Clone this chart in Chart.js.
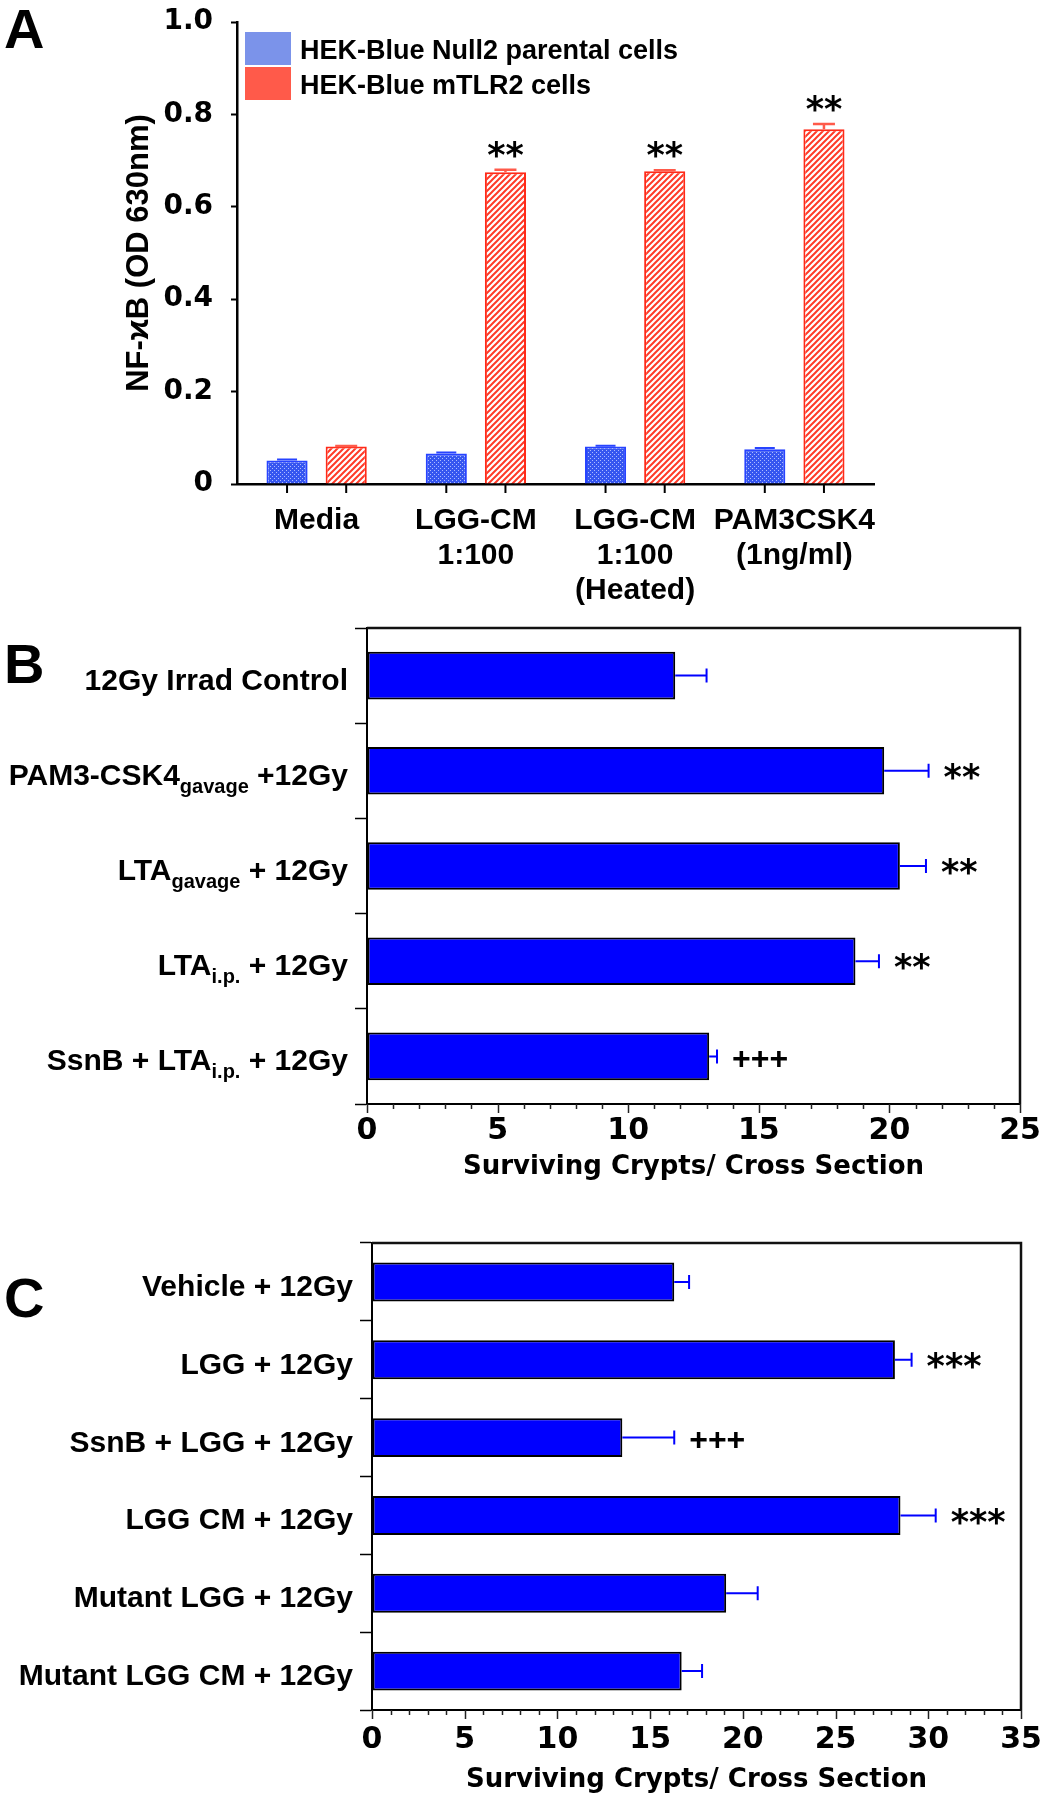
<!DOCTYPE html>
<html>
<head>
<meta charset="utf-8">
<script src="https://cdn.jsdelivr.net/npm/chart.js@4.4.1/dist/chart.umd.min.js"></script>
<style>
  html, body { margin: 0; padding: 0; background: #fff; }
  #page { position: relative; width: 1046px; height: 1800px; overflow: hidden; }
  #page canvas { position: absolute; left: 0; }
  .tag { position: absolute; left: 4px; font: bold 56px "Liberation Sans", Arial, sans-serif; line-height: 1; color: #000; }
</style>
</head>
<body>
<div id="page">
  <canvas id="chartA" width="1046" height="610" style="top:0px"></canvas>
  <canvas id="chartB" width="1046" height="580" style="top:610px"></canvas>
  <canvas id="chartC" width="1046" height="610" style="top:1190px"></canvas>
  <div class="tag" style="top:1px">A</div>
  <div class="tag" style="top:636px">B</div>
  <div class="tag" style="top:1270px">C</div>
</div>
<script>
// ---- panel A : NF-kB reporter ----
const groupLabelsA = [['Media'], ['LGG-CM', '1:100'], ['LGG-CM', '1:100', '(Heated)'], ['PAM3CSK4', '(1ng/ml)']];
const seriesNamesA = ['HEK-Blue Null2 parental cells', 'HEK-Blue mTLR2 cells'];
const nullValuesA = [0.051, 0.066, 0.081, 0.075];
const nullErrorsA = [0.002, 0.002, 0.002, 0.003];
const tlr2ValuesA = [0.081, 0.675, 0.677, 0.768];
const tlr2ErrorsA = [0.001, 0.005, 0.002, 0.011];
const tlr2MarksA = ['', '**', '**', '**'];
const yTicksA = [0, 0.2, 0.4, 0.6, 0.8, 1.0];

// ---- panel B : TLR2 agonists ----
const groupsB = ['12Gy Irrad Control', 'PAM3-CSK4_{gavage} +12Gy', 'LTA_{gavage} + 12Gy', 'LTA_{i.p.} + 12Gy', 'SsnB + LTA_{i.p.} + 12Gy'];
const valuesB = [11.8, 19.8, 20.4, 18.7, 13.1];
const errorsB = [1.2, 1.7, 1.0, 0.9, 0.3];
const marksB = ['', '**', '**', '**', '+++'];
const xTicksB = [0, 5, 10, 15, 20, 25];

// ---- panel C : LGG / CM ----
const groupsC = ['Vehicle + 12Gy', 'LGG + 12Gy', 'SsnB + LGG + 12Gy', 'LGG CM + 12Gy', 'Mutant LGG + 12Gy', 'Mutant LGG CM + 12Gy'];
const valuesC = [16.3, 28.2, 13.5, 28.5, 19.1, 16.7];
const errorsC = [0.8, 0.9, 2.8, 1.9, 1.7, 1.1];
const marksC = ['', '***', '+++', '***', '', ''];
const xTicksC = [0, 5, 10, 15, 20, 25, 30, 35];

const SANS = '"Liberation Sans", Arial, sans-serif';
const WIDE = '"DejaVu Sans", sans-serif';
Chart.defaults.color = '#000';

// fill patterns for panel A
function makePattern(size, paint) {
  const c = document.createElement('canvas');
  c.width = size; c.height = size;
  const g = c.getContext('2d');
  paint(g);
  return g.createPattern(c, 'repeat');
}
const stipple = makePattern(4, g => {
  g.fillStyle = '#3656f0'; g.fillRect(0, 0, 4, 4);
  g.fillStyle = '#aebbff'; g.fillRect(0, 0, 1, 1); g.fillRect(2, 2, 1, 1);
});
const hatch = makePattern(6, g => {
  g.fillStyle = '#fff'; g.fillRect(0, 0, 6, 6);
  g.strokeStyle = '#ff3a28'; g.lineWidth = 2;
  g.beginPath();
  g.moveTo(-1, 7); g.lineTo(7, -1);
  g.moveTo(-4, 4); g.lineTo(4, -4);
  g.moveTo(2, 10); g.lineTo(10, 2);
  g.stroke();
});

// error bars + significance marks, drawn from the bar elements
const errorBars = {
  id: 'errorBars',
  afterDatasetsDraw(chart, args, opts) {
    const ctx = chart.ctx;
    const horiz = chart.options.indexAxis === 'y';
    const vScale = horiz ? chart.scales.x : chart.scales.y;
    (opts.sets || []).forEach(set => {
      const meta = chart.getDatasetMeta(set.dataset);
      const data = chart.data.datasets[set.dataset].data;
      meta.data.forEach((bar, i) => {
        const end = vScale.getPixelForValue(data[i] + set.errors[i]);
        ctx.save();
        ctx.strokeStyle = set.color;
        ctx.lineWidth = set.lineWidth;
        ctx.beginPath();
        if (horiz) {
          ctx.moveTo(bar.x, bar.y); ctx.lineTo(end, bar.y);
          ctx.moveTo(end, bar.y - set.cap / 2); ctx.lineTo(end, bar.y + set.cap / 2);
        } else {
          ctx.moveTo(bar.x, bar.y); ctx.lineTo(bar.x, end);
          ctx.moveTo(bar.x - set.cap / 2, end); ctx.lineTo(bar.x + set.cap / 2, end);
        }
        ctx.stroke();
        const m = set.marks ? set.marks[i] : '';
        if (m) {
          const star = m[0] === '*';
          ctx.fillStyle = '#000';
          ctx.font = star ? 'bold 35px ' + WIDE : 'bold 32px ' + SANS;
          if (horiz) {
            ctx.textAlign = 'left';
            ctx.textBaseline = 'middle';
            ctx.fillText(m, end + set.gap, bar.y + (star ? 9 : 4));
          } else {
            ctx.textAlign = 'center';
            ctx.textBaseline = 'alphabetic';
            ctx.fillText(m, bar.x, end - 3);
          }
        }
        ctx.restore();
      });
    });
  }
};

// tick marks under each bar of panel A
const barTicks = {
  id: 'barTicks',
  afterDraw(chart) {
    const ctx = chart.ctx, b = chart.chartArea.bottom;
    ctx.save();
    ctx.strokeStyle = '#000'; ctx.lineWidth = 2;
    chart.data.datasets.forEach((ds, di) => {
      chart.getDatasetMeta(di).data.forEach(bar => {
        ctx.beginPath(); ctx.moveTo(bar.x, b); ctx.lineTo(bar.x, b + 9); ctx.stroke();
      });
    });
    ctx.restore();
  }
};

// legend of panel A (boxes stacked in the plot corner)
const boxLegend = {
  id: 'boxLegend',
  afterDraw(chart, args, opts) {
    const ctx = chart.ctx, a = chart.chartArea;
    ctx.save();
    chart.data.datasets.forEach((ds, i) => {
      const x = a.left + 8, y = a.top + 10 + i * 35;
      ctx.fillStyle = opts.colors[i];
      ctx.fillRect(x, y, 46, 33);
      ctx.fillStyle = '#000';
      ctx.font = 'bold 27px ' + SANS;
      ctx.textAlign = 'left';
      ctx.textBaseline = 'alphabetic';
      ctx.fillText(ds.label, x + 55, y + 27);
    });
    ctx.restore();
  }
};

// minor ticks + frame for panels B and C
const frameTicks = {
  id: 'frameTicks',
  afterDraw(chart) {
    const ctx = chart.ctx, a = chart.chartArea, xs = chart.scales.x;
    ctx.save();
    ctx.strokeStyle = '#222'; ctx.lineWidth = 1.5;
    for (let v = xs.min; v <= xs.max; v++) {
      const px = Math.round(xs.getPixelForValue(v)) + 0.5;
      ctx.beginPath(); ctx.moveTo(px, a.bottom); ctx.lineTo(px, a.bottom + (v % 5 === 0 ? 9 : 5)); ctx.stroke();
    }
    ctx.strokeStyle = '#111'; ctx.lineWidth = 2.5;
    ctx.beginPath();
    ctx.moveTo(a.left, a.top); ctx.lineTo(a.right, a.top); ctx.lineTo(a.right, a.bottom);
    ctx.stroke();
    ctx.restore();
  }
};

// category labels with subscripts (text_{sub})
function drawRich(ctx, text, xRight, y) {
  const parts = text.split(/(_\{[^}]*\})/).filter(Boolean)
    .map(p => p.startsWith('_{') ? { t: p.slice(2, -1), sub: true } : { t: p, sub: false });
  let w = 0;
  parts.forEach(p => { ctx.font = p.sub ? 'bold 20px ' + SANS : 'bold 30px ' + SANS; p.w = ctx.measureText(p.t).width; w += p.w; });
  let x = xRight - w;
  parts.forEach(p => {
    ctx.font = p.sub ? 'bold 20px ' + SANS : 'bold 30px ' + SANS;
    ctx.fillText(p.t, x, p.sub ? y + 8 : y);
    x += p.w;
  });
}
const richLabels = {
  id: 'richLabels',
  afterDraw(chart) {
    const ctx = chart.ctx, ys = chart.scales.y, a = chart.chartArea;
    ctx.save();
    ctx.fillStyle = '#000';
    ctx.textAlign = 'left';
    ctx.textBaseline = 'alphabetic';
    chart.data.labels.forEach((lab, i) => drawRich(ctx, lab, a.left - 19, ys.getPixelForValue(i) + 14));
    ctx.restore();
  }
};

// ---------------- chart A ----------------
new Chart(document.getElementById('chartA'), {
  type: 'bar',
  data: {
    labels: groupLabelsA,
    datasets: [
      { label: seriesNamesA[0], data: nullValuesA, backgroundColor: stipple, borderColor: '#2743ff', borderWidth: 2,
        barPercentage: 0.695, categoryPercentage: 0.743 },
      { label: seriesNamesA[1], data: tlr2ValuesA, backgroundColor: hatch, borderColor: '#ff2a18', borderWidth: 2,
        barPercentage: 0.695, categoryPercentage: 0.743 }
    ]
  },
  options: {
    responsive: false, animation: false, devicePixelRatio: 1,
    layout: { padding: { top: 22, right: 172, bottom: 0, left: 0 } },
    plugins: {
      legend: { display: false }, tooltip: { enabled: false },
      boxLegend: { colors: ['#7b93ea', '#ff5a4a'] },
      errorBars: { sets: [
        { dataset: 0, errors: nullErrorsA, color: '#2743ff', lineWidth: 2, cap: 20 },
        { dataset: 1, errors: tlr2ErrorsA, marks: tlr2MarksA, color: '#ff5a4a', lineWidth: 2.5, cap: 22 }
      ] }
    },
    scales: {
      x: {
        grid: { display: true, drawOnChartArea: false, tickLength: 9, color: 'rgba(0,0,0,0)', tickColor: 'rgba(0,0,0,0)' },
        border: { color: '#000', width: 2.5 },
        ticks: { font: { family: SANS, weight: 'bold', size: 30, lineHeight: 1.17 }, color: '#000', padding: 10, maxRotation: 0, autoSkip: false },
        afterFit: s => { s.height = 126; }
      },
      y: {
        min: 0, max: 1,
        afterBuildTicks: s => { s.ticks = yTicksA.map(v => ({ value: v })); },
        ticks: { font: { family: WIDE, weight: 'bold', size: 28 }, color: '#000', padding: 18,
                 callback: v => v === 0 ? '0' : Number(v).toFixed(1) },
        grid: { drawOnChartArea: false, tickLength: 6, color: '#000', tickWidth: 2 },
        border: { color: '#000', width: 2.5 },
        title: { display: true, text: 'NF-ϰB (OD 630nm)', font: { family: SANS, weight: 'bold', size: 31 }, color: '#000', padding: { top: 121, bottom: 0 } },
        afterFit: s => { s.width = 237; s.paddingTop = 0; s.paddingBottom = 0; }
      }
    }
  },
  plugins: [errorBars, barTicks, boxLegend]
});

// ---------------- horizontal panels B and C ----------------
function crypts(id, labels, values, errors, marks, majors, opt) {
  return new Chart(document.getElementById(id), {
    type: 'bar',
    data: {
      labels: labels,
      datasets: [{ data: values, backgroundColor: '#0000ff', borderColor: '#000', borderWidth: 2, borderSkipped: false,
                   barPercentage: 0.5, categoryPercentage: 1 }]
    },
    options: {
      indexAxis: 'y',
      responsive: false, animation: false, devicePixelRatio: 1,
      layout: { padding: { top: opt.top, right: opt.right, bottom: 0, left: 0 } },
      plugins: {
        legend: { display: false }, tooltip: { enabled: false },
        errorBars: { sets: [{ dataset: 0, errors: errors, marks: marks, color: '#0000ff', lineWidth: 2, cap: 14, gap: 15 }] }
      },
      scales: {
        x: {
          min: majors[0], max: majors[majors.length - 1],
          afterBuildTicks: s => { s.ticks = majors.map(v => ({ value: v })); },
          grid: { display: true, drawOnChartArea: false, tickLength: 8, color: 'rgba(0,0,0,0)', tickColor: 'rgba(0,0,0,0)' },
          border: { color: '#000', width: 2 },
          ticks: { font: { family: WIDE, weight: 'bold', size: 30 }, color: '#000', padding: opt.tickPad, maxRotation: 0, autoSkip: false },
          title: { display: true, text: 'Surviving Crypts/ Cross Section', font: { family: WIDE, weight: 'bold', size: 26 }, color: '#000', padding: { top: 0, bottom: opt.titlePad } },
          afterFit: s => { s.height = opt.xHeight; }
        },
        y: {
          grid: { display: true, drawOnChartArea: false, offset: true, tickLength: 12, color: '#000', tickWidth: 1.5 },
          border: { color: '#000', width: 2 },
          ticks: { display: false },
          afterFit: s => { s.width = opt.yWidth; }
        }
      }
    },
    plugins: [errorBars, frameTicks, richLabels]
  });
}

crypts('chartB', groupsB, valuesB, errorsB, marksB, xTicksB,
  { top: 18, right: 26, xHeight: 86, yWidth: 367, tickPad: 1, titlePad: 7 });
crypts('chartC', groupsC, valuesC, errorsC, marksC, xTicksC,
  { top: 53, right: 25, xHeight: 90, yWidth: 372, tickPad: 4, titlePad: 4 });
</script>
</body>
</html>
